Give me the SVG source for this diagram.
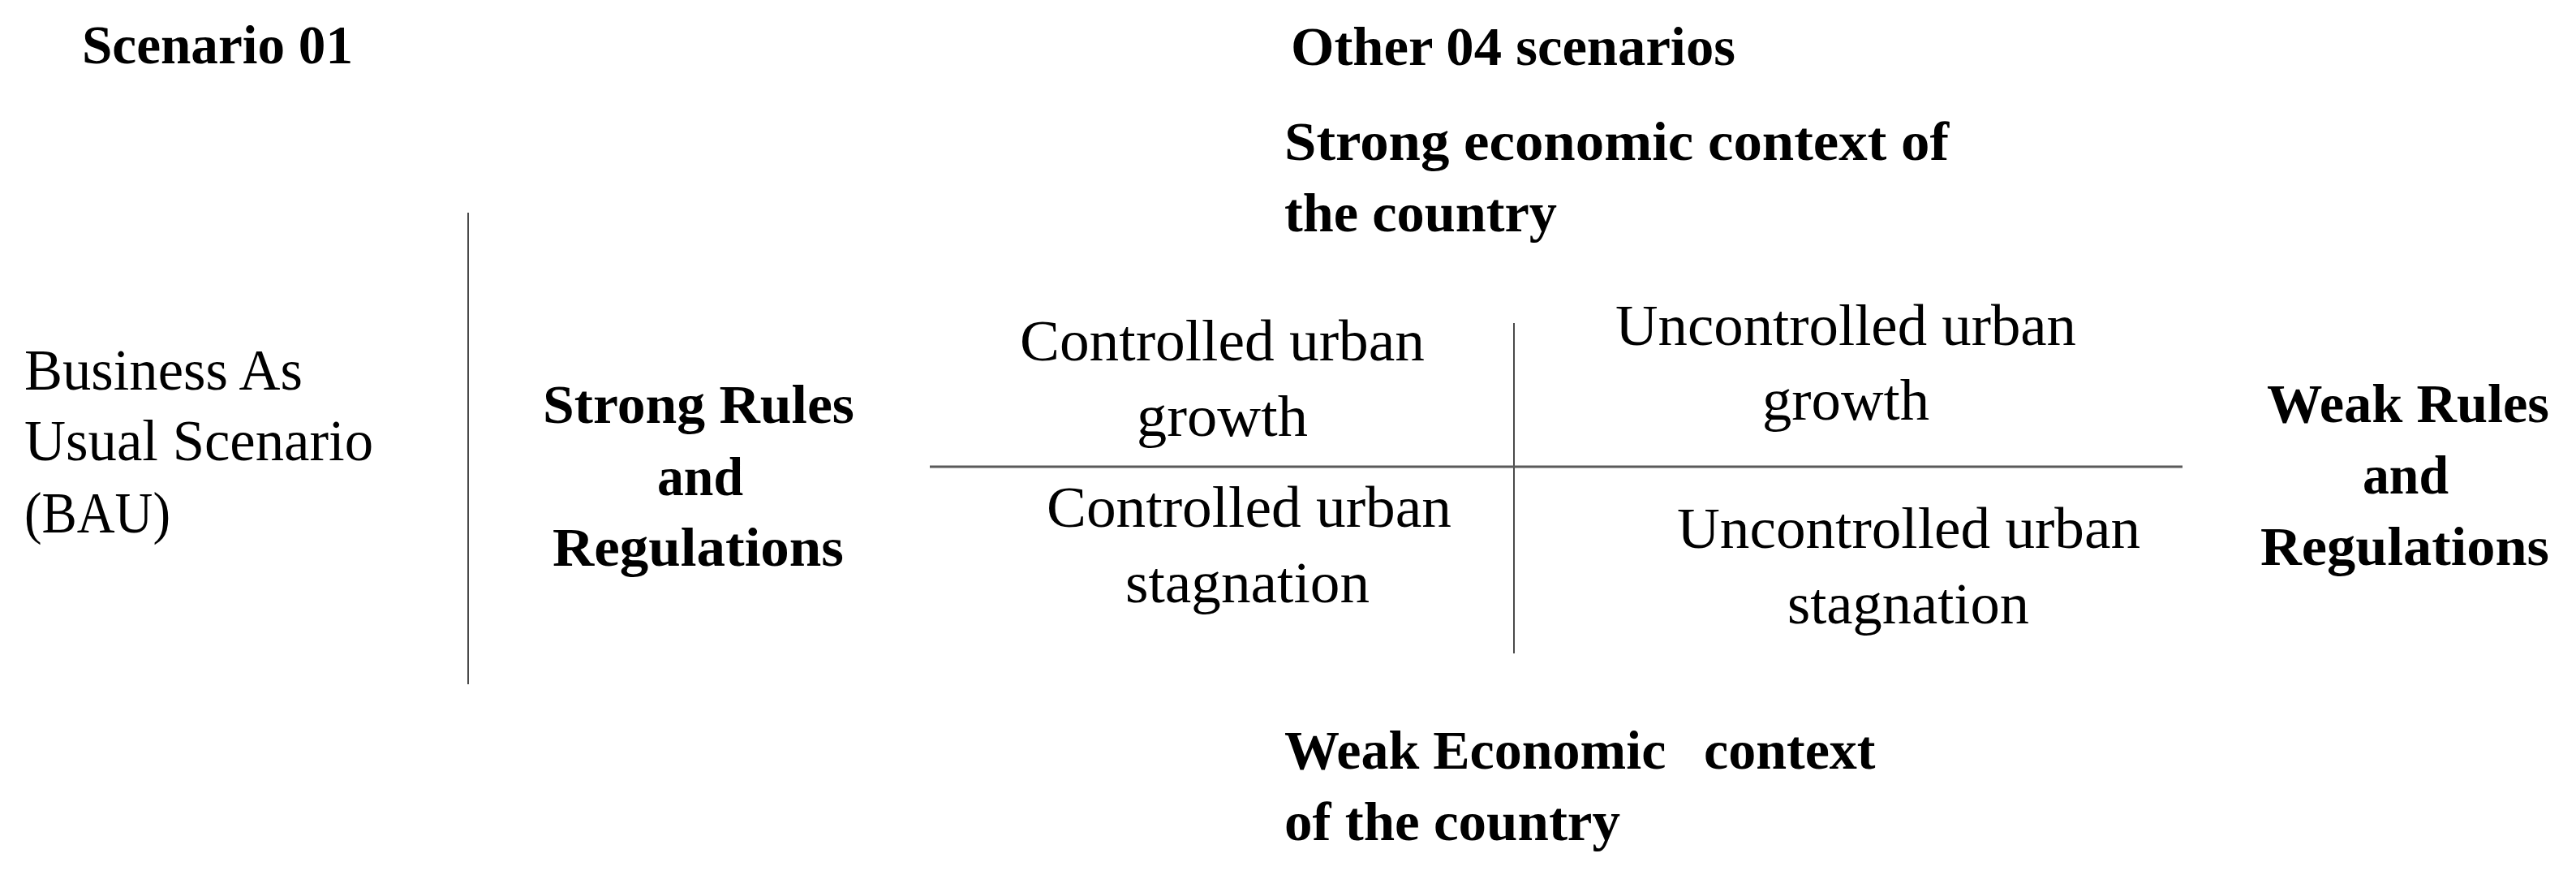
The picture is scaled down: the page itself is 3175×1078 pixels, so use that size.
<svg xmlns="http://www.w3.org/2000/svg" width="3175" height="1078" viewBox="0 0 3175 1078">
<style>
  text { font-family: "Liberation Serif", "Times New Roman", serif; fill: #000; }
  .b { font-weight: bold; font-size: 68px; }
  .r { font-size: 72px; }
  .ln { stroke: #4a4a4a; stroke-width: 2; fill: none; }
  .lh { stroke: #5a5a5a; stroke-width: 3; fill: none; }
</style>
<rect width="3175" height="1078" fill="#fff"/>
<g id="connectors">
  <line class="ln" x1="577" y1="262" x2="577" y2="843"/>
  <line class="ln" x1="1866" y1="398" x2="1866" y2="805"/>
  <line class="lh" x1="1146" y1="575" x2="2690" y2="575"/>
</g>
<g id="scenario01"><text class="b" x="101" y="78" textLength="334" lengthAdjust="spacingAndGlyphs">Scenario 01</text></g>
<g id="other04"><text class="b" x="1591" y="80" textLength="548" lengthAdjust="spacingAndGlyphs">Other 04 scenarios</text></g>
<g id="strongEconomic">
  <text class="b" x="1583" y="197" textLength="819" lengthAdjust="spacingAndGlyphs">Strong economic context of</text>
  <text class="b" x="1583" y="285" textLength="336" lengthAdjust="spacingAndGlyphs">the country</text>
</g>
<g id="bau">
  <text class="r" x="30" y="480" textLength="343" lengthAdjust="spacingAndGlyphs">Business As</text>
  <text class="r" x="30" y="567" textLength="430" lengthAdjust="spacingAndGlyphs">Usual Scenario</text>
  <text class="r" x="30" y="656" textLength="180" lengthAdjust="spacingAndGlyphs">(BAU)</text>
</g>
<g id="strongRules">
  <text class="b" x="669" y="521" textLength="384" lengthAdjust="spacingAndGlyphs">Strong Rules</text>
  <text class="b" x="810" y="610" textLength="106" lengthAdjust="spacingAndGlyphs">and</text>
  <text class="b" x="681" y="697" textLength="359" lengthAdjust="spacingAndGlyphs">Regulations</text>
</g>
<g id="controlledGrowth">
  <text class="r" x="1257" y="444" textLength="499" lengthAdjust="spacingAndGlyphs">Controlled urban</text>
  <text class="r" x="1401" y="537" textLength="211" lengthAdjust="spacingAndGlyphs">growth</text>
</g>
<g id="uncontrolledGrowth">
  <text class="r" x="1991" y="425" textLength="568" lengthAdjust="spacingAndGlyphs">Uncontrolled urban</text>
  <text class="r" x="2172" y="517" textLength="206" lengthAdjust="spacingAndGlyphs">growth</text>
</g>
<g id="controlledStagnation">
  <text class="r" x="1290" y="649" textLength="499" lengthAdjust="spacingAndGlyphs">Controlled urban</text>
  <text class="r" x="1387" y="742" textLength="301" lengthAdjust="spacingAndGlyphs">stagnation</text>
</g>
<g id="uncontrolledStagnation">
  <text class="r" x="2067" y="675" textLength="571" lengthAdjust="spacingAndGlyphs">Uncontrolled urban</text>
  <text class="r" x="2203" y="768" textLength="298" lengthAdjust="spacingAndGlyphs">stagnation</text>
</g>
<g id="weakRules">
  <text class="b" x="2794" y="520" textLength="348" lengthAdjust="spacingAndGlyphs">Weak Rules</text>
  <text class="b" x="2912" y="608" textLength="106" lengthAdjust="spacingAndGlyphs">and</text>
  <text class="b" x="2786" y="696" textLength="356" lengthAdjust="spacingAndGlyphs">Regulations</text>
</g>
<g id="weakEconomic">
  <text class="b" y="947"><tspan x="1583">Weak Economic</tspan><tspan x="2100">context</tspan></text>
  <text class="b" x="1583" y="1035" textLength="414" lengthAdjust="spacingAndGlyphs">of the country</text>
</g>
</svg>
